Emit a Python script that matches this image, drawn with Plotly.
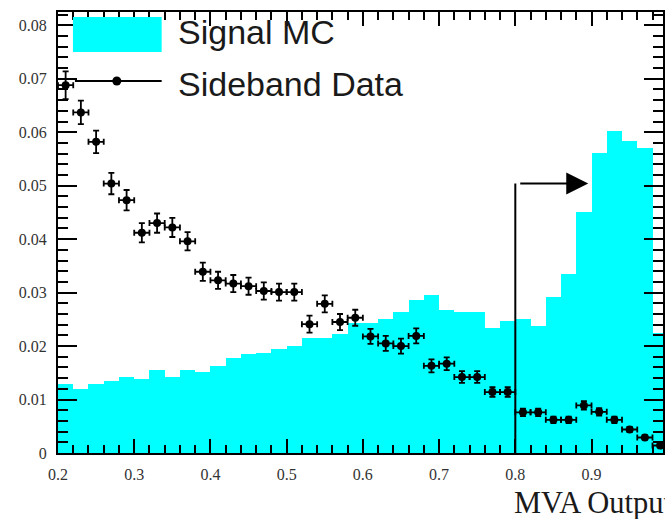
import plotly.graph_objects as go

# ---------------- data ----------------
bin_centres = [round(0.21 + 0.02 * i, 2) for i in range(40)]
bin_width = 0.02

signal_mc = [0.0130, 0.0120, 0.0129, 0.0134, 0.0142, 0.0138, 0.0155, 0.0142, 0.0155, 0.0151,
             0.0162, 0.0177, 0.0186, 0.0187, 0.0195, 0.0200, 0.0216, 0.0216, 0.0222, 0.0244,
             0.0244, 0.0250, 0.0264, 0.0286, 0.0295, 0.0268, 0.0264, 0.0264, 0.0234, 0.0247,
             0.0251, 0.0238, 0.0291, 0.0335, 0.0451, 0.0561, 0.0603, 0.0583, 0.0570, 0.0225]

sideband = [0.0688, 0.0637, 0.0582, 0.0504, 0.0473, 0.0412, 0.0430, 0.0422, 0.0396, 0.0339,
            0.0323, 0.0317, 0.0312, 0.0303, 0.0301, 0.0301, 0.0241, 0.0279, 0.0245, 0.0253,
            0.0218, 0.0205, 0.0200, 0.0219, 0.0163, 0.0167, 0.0142, 0.0142, 0.0114, 0.0114,
            0.0076, 0.0076, 0.0062, 0.0062, 0.0089, 0.0077, 0.0062, 0.0044, 0.0029, 0.0014]

sideband_err = [0.0026, 0.0022, 0.0021, 0.0020, 0.0019, 0.0018, 0.0018, 0.0018, 0.0017, 0.0017,
                0.0016, 0.0016, 0.0016, 0.0016, 0.0016, 0.0016, 0.0016, 0.0016, 0.0015, 0.0015,
                0.0014, 0.0014, 0.0014, 0.0014, 0.0012, 0.0012, 0.0011, 0.0011, 0.0009, 0.0009,
                0.0007, 0.0007, 0.0006, 0.0006, 0.0008, 0.0007, 0.0006, 0.0005, 0.0004, 0.0003]

x_err = [0.01] * 40

x_ticks = [0.2, 0.3, 0.4, 0.5, 0.6, 0.7, 0.8, 0.9]
x_tick_text = ["0.2", "0.3", "0.4", "0.5", "0.6", "0.7", "0.8", "0.9"]
y_ticks = [0, 0.01, 0.02, 0.03, 0.04, 0.05, 0.06, 0.07, 0.08]
y_tick_text = ["0", "0.01", "0.02", "0.03", "0.04", "0.05", "0.06", "0.07", "0.08"]

cut_value = 0.8
arrow_level = 0.0504
arrow_tip = 0.8957
arrow_start = 0.8045

# ---------------- layout helpers ----------------
W, H = 665, 519
L, R, T, B = 58, 0, 12, 66
PW = W - L - R
PH = H - T - B


def px(xpix):
    return (xpix - L) / PW


def py(ypix):
    return (H - B - ypix) / PH


CYAN = "#00FFFF"

fig = go.Figure()
fig.add_trace(go.Bar(x=bin_centres, y=signal_mc, width=bin_width,
                     marker=dict(color=CYAN, line=dict(width=0)),
                     name="Signal MC", showlegend=False))
fig.add_trace(go.Scatter(x=bin_centres, y=sideband, mode="markers",
                         marker=dict(color="black", size=8, symbol="circle"),
                         error_x=dict(type="data", array=x_err, color="black", thickness=1.8, width=3),
                         error_y=dict(type="data", array=sideband_err, color="black", thickness=1.8, width=3),
                         name="Sideband Data", showlegend=False))

shapes = [
    # cut line
    dict(type="line", xref="x", yref="y", x0=cut_value, x1=cut_value, y0=0, y1=arrow_level,
         line=dict(color="black", width=2)),
    # legend cyan box
    dict(type="rect", xref="paper", yref="paper", x0=px(73), x1=px(162), y0=py(52), y1=py(17),
         fillcolor=CYAN, line=dict(width=0)),
    # legend line for data
    dict(type="line", xref="paper", yref="paper", x0=px(75), x1=px(162), y0=py(81), y1=py(81),
         line=dict(color="black", width=2)),
    dict(type="circle", xref="paper", yref="paper", xsizemode="pixel", ysizemode="pixel",
         xanchor=px(117), yanchor=py(81), x0=-4.5, x1=4.5, y0=-4.5, y1=4.5,
         fillcolor="black", line=dict(width=0)),
]

legend_font = dict(family="Liberation Sans, Arial, sans-serif", size=34, color="#1a1a1a")

annotations = [
    dict(x=arrow_tip, y=arrow_level, ax=arrow_start, ay=arrow_level, xref="x", yref="y",
         axref="x", ayref="y", text="", showarrow=True, arrowhead=2, arrowsize=2.2,
         arrowwidth=2, arrowcolor="black"),
    dict(x=px(176), y=py(32), xref="paper", yref="paper", text="Signal MC", showarrow=False,
         xanchor="left", yanchor="middle", font=legend_font),
    dict(x=px(176), y=py(84), xref="paper", yref="paper", text="Sideband Data", showarrow=False,
         xanchor="left", yanchor="middle", font=legend_font),
    dict(x=px(514), y=py(503), xref="paper", yref="paper", text="MVA Output", showarrow=False,
         xanchor="left", yanchor="middle",
         font=dict(family="Liberation Serif, Times New Roman, serif", size=30.5, color="#1a1a1a")),
]

tick_font = dict(family="Liberation Serif, Times New Roman, serif", size=16, color="#333333")

fig.update_layout(
    width=W, height=H,
    margin=dict(l=L, r=R, t=T, b=B, pad=0),
    paper_bgcolor="white", plot_bgcolor="white",
    bargap=0, showlegend=False,
    shapes=shapes, annotations=annotations,
    xaxis=dict(range=[0.2, 0.2 + PW / 764.7], tickmode="array", tickvals=x_ticks,
               ticktext=x_tick_text, ticks="inside", ticklen=14, tickwidth=2, tickcolor="black",
               showline=True, linewidth=2, linecolor="black", mirror="ticks",
               showgrid=False, zeroline=False, tickfont=tick_font, ticklabelstandoff=6,
               minor=dict(tickvals=[round(0.2 + 0.02 * i, 2) for i in range(41)],
                          ticks="inside", ticklen=8, tickwidth=2, tickcolor="black", showgrid=False)),
    yaxis=dict(range=[0, PH / 5346], tickmode="array", tickvals=y_ticks,
               ticktext=y_tick_text, ticks="inside", ticklen=19, tickwidth=2, tickcolor="black",
               showline=True, linewidth=2, linecolor="black", mirror="ticks",
               showgrid=False, zeroline=False, tickfont=tick_font, ticklabelstandoff=6,
               minor=dict(tickvals=[round(0.002 * i, 3) for i in range(42)],
                          ticks="inside", ticklen=10, tickwidth=2, tickcolor="black", showgrid=False)),
)

fig.write_html("out.html", config={"displayModeBar": False},
               post_script="document.body.style.margin='0';document.body.style.overflow='hidden';")
